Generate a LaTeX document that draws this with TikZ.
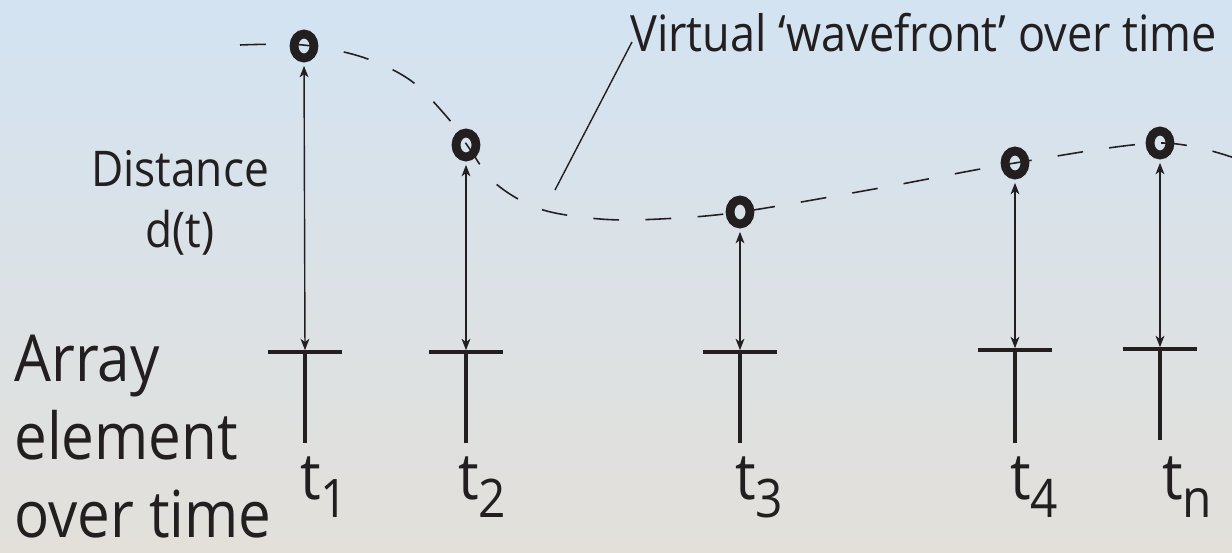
\documentclass[tikz,border=0pt]{standalone}
\usepackage{fontspec}
\setmainfont[FakeStretch=0.9]{Open Sans}
\usetikzlibrary{arrows.meta}
\definecolor{ink}{HTML}{231F20}
\definecolor{bgtop}{RGB}{211,227,242}
\definecolor{bgbot}{RGB}{227,224,218}
\newcommand\tlab[1]{t\raisebox{-0.27em}{\scalebox{0.82}{#1}}}
\begin{document}
\begin{tikzpicture}[x=0.02cm,y=-0.02cm,
  ringline/.style={draw=ink, line width=5pt},
  dim/.style={draw=ink, line width=0.8pt, {Stealth[length=6.5pt,width=5pt,inset=1.8pt]}-{Stealth[length=6.5pt,width=5pt,inset=1.8pt]}, shorten <=4pt, shorten >=1pt},
  bar/.style={draw=ink, line width=1.9pt},
  wave/.style={draw=ink, line width=0.9pt, dash pattern=on 14.7pt off 15pt},
  lead/.style={draw=ink, line width=0.8pt},
  big/.style={text=ink, inner sep=0pt, font=\fontsize{36.9}{44.2}\selectfont},
  mid/.style={text=ink, inner sep=0pt, font=\fontsize{28}{35}\selectfont},
  dot/.style={inner sep=0pt, minimum width=0.4cm, minimum height=0.5cm}]
\useasboundingbox (0,0) rectangle (1232,553);
\fill[top color=bgtop, bottom color=bgbot] (0,0) rectangle (1232,553);

% wavefront curve
\draw[wave] plot[smooth, tension=0.55] coordinates {(240,45) (303,45) (362,57) (410,80) (447,117) (467,145) (495,183) (540,209) (600,219) (660,219) (740,212) (880,188) (1015,163) (1160,143) (1240,160)};

% point reflectors
\node[dot] (d1) at (304,46) {};
\node[dot] (d2) at (466,145) {};
\node[dot] (d3) at (740,212) {};
\node[dot] (d4) at (1015,163) {};
\node[dot] (d5) at (1160,143) {};
\foreach \d in {d1,d2,d3,d4,d5}
  \draw[ringline] (\d) ellipse [x radius=0.2cm, y radius=0.24cm];

% array elements (tee tops)
\coordinate (e1) at (305,352);
\coordinate (e2) at (466,352);
\coordinate (e3) at (740,352);
\coordinate (e4) at (1015,350);
\coordinate (e5) at (1160,349);
\foreach \e/\b in {e1/443,e2/443,e3/443,e4/443,e5/440}{
  \draw[bar] ([xshift=-0.75cm]\e) -- ([xshift=0.75cm]\e);
  \draw[bar] (\e) -- (\e |- 0,\b);
}

% distances
\draw[dim] (d1.south) -- (e1);
\draw[dim] (d2.south) -- (e2);
\draw[dim] (d3.south) -- (e3);
\draw[dim] (d4.south) -- (e4);
\draw[dim] (d5.south) -- (e5);

% labels
\node[big, anchor=base west] (l1) at (300,500) {\tlab{1}};
\node[big, anchor=base west] (l2) at (458,500) {\tlab{2}};
\node[big, anchor=base west] (l3) at (735,500) {\tlab{3}};
\node[big, anchor=base west] (l4) at (1010,500) {\tlab{4}};
\node[big, anchor=base west] (l5) at (1162,500) {\tlab{n}};

\node[big, anchor=north west, align=left] (arr) at (14,335) {Array\\element\\over time};
\node[mid, anchor=north, align=center] (dist) at (180,150) {Distance\\d(t)};

\node[mid, anchor=base west, font=\fontsize{28.5}{35}\selectfont] (vt) at (630,52) {Virtual ‘wavefront’ over time};
\coordinate (lb) at (555,190);
\coordinate (lt) at (632,42);
\draw[lead] (lb) -- (lt);
\end{tikzpicture}
\end{document}
